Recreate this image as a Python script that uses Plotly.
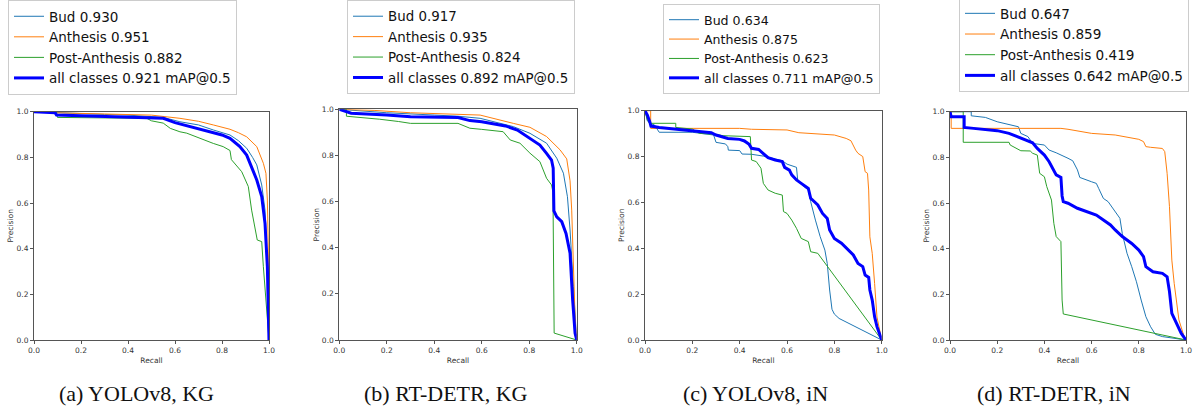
import plotly.graph_objects as go

# ---------------- data (recall / precision pairs) ----------------
# (a) YOLOv8, KG
a_bud_r = [0, 0.1, 0.2, 0.3, 0.4, 0.5, 0.55, 0.621, 0.7, 0.763, 0.8, 0.834, 0.87, 0.905, 0.93, 0.948, 0.969, 0.983, 0.993, 1.0]
a_bud_p = [1.0, 0.995, 0.99, 0.988, 0.985, 0.98, 0.975, 0.956, 0.942, 0.92, 0.908, 0.898, 0.873, 0.84, 0.80, 0.767, 0.679, 0.569, 0.321, 0.0]
a_anth_r = [0, 0.1, 0.3, 0.5, 0.621, 0.7, 0.763, 0.834, 0.87, 0.905, 0.948, 0.976, 0.987, 0.993, 0.997, 1.0]
a_anth_p = [1.0, 0.995, 0.99, 0.985, 0.971, 0.958, 0.942, 0.923, 0.908, 0.89, 0.847, 0.774, 0.73, 0.613, 0.394, 0.0]
a_post_r = [0, 0.095, 0.1, 0.3, 0.48, 0.5, 0.55, 0.58, 0.621, 0.65, 0.7, 0.763, 0.805, 0.834, 0.84, 0.884, 0.912, 0.926, 0.95, 0.969, 0.976, 0.99, 1.0]
a_post_p = [1.0, 1.0, 0.975, 0.972, 0.971, 0.96, 0.95, 0.927, 0.912, 0.906, 0.885, 0.861, 0.847, 0.83, 0.79, 0.737, 0.672, 0.569, 0.438, 0.431, 0.321, 0.146, 0.0]
a_all_r = [0, 0.09, 0.096, 0.21, 0.4, 0.5, 0.55, 0.6, 0.65, 0.7, 0.763, 0.8, 0.834, 0.876, 0.905, 0.926, 0.948, 0.969, 0.983, 0.993, 1.0]
a_all_p = [1.0, 0.995, 0.985, 0.982, 0.978, 0.975, 0.971, 0.952, 0.939, 0.927, 0.908, 0.898, 0.883, 0.847, 0.81, 0.759, 0.701, 0.628, 0.511, 0.321, 0.0]

# (b) RT-DETR, KG
b_bud_r = [0, 0.2, 0.4, 0.5, 0.593, 0.733, 0.803, 0.873, 0.916, 0.944, 0.961, 0.972, 0.986, 1.0]
b_bud_p = [1.0, 0.985, 0.975, 0.97, 0.961, 0.925, 0.896, 0.853, 0.788, 0.723, 0.621, 0.477, 0.231, 0.0]
b_anth_r = [0, 0.15, 0.3, 0.5, 0.593, 0.733, 0.803, 0.873, 0.93, 0.958, 0.972, 0.979, 0.986, 0.993, 1.0]
b_anth_p = [1.0, 0.995, 0.985, 0.978, 0.975, 0.939, 0.922, 0.882, 0.824, 0.785, 0.69, 0.563, 0.34, 0.1, 0.0]
b_post_r = [0, 0.03, 0.03, 0.1, 0.17, 0.25, 0.3, 0.5, 0.55, 0.6, 0.65, 0.69, 0.72, 0.761, 0.803, 0.845, 0.873, 0.894, 0.9, 0.905, 1.0]
b_post_p = [1.0, 1.0, 0.97, 0.965, 0.957, 0.947, 0.939, 0.939, 0.918, 0.913, 0.908, 0.903, 0.867, 0.853, 0.81, 0.773, 0.701, 0.672, 0.64, 0.03, 0.0]
b_all_r = [0, 0.03, 0.05, 0.2, 0.3, 0.5, 0.55, 0.6, 0.7, 0.75, 0.803, 0.845, 0.873, 0.894, 0.901, 0.904, 0.916, 0.937, 0.955, 0.972, 0.983, 0.993, 1.0]
b_all_p = [1.0, 0.99, 0.983, 0.975, 0.968, 0.964, 0.951, 0.946, 0.928, 0.91, 0.874, 0.845, 0.809, 0.78, 0.745, 0.56, 0.534, 0.513, 0.462, 0.376, 0.173, 0.03, 0.0]

# (c) YOLOv8, iN
c_bud_r = [0, 0.01, 0.02, 0.04, 0.06, 0.2, 0.29, 0.3, 0.34, 0.35, 0.352, 0.4, 0.41, 0.45, 0.5, 0.58, 0.6, 0.64, 0.645, 0.66, 0.69, 0.7, 0.72, 0.74, 0.76, 0.77, 0.78, 0.79, 0.8, 0.82, 1.0]
c_bud_p = [1.0, 0.956, 0.945, 0.938, 0.906, 0.906, 0.894, 0.862, 0.855, 0.843, 0.828, 0.826, 0.811, 0.81, 0.802, 0.782, 0.767, 0.753, 0.698, 0.679, 0.654, 0.603, 0.523, 0.451, 0.392, 0.334, 0.218, 0.134, 0.113, 0.094, 0.0]
c_anth_r = [0, 0.024, 0.024, 0.4, 0.45, 0.6, 0.65, 0.7, 0.8, 0.85, 0.87, 0.89, 0.9, 0.92, 0.93, 0.94, 0.945, 0.95, 0.96, 0.97, 0.98, 1.0]
c_anth_p = [1.0, 1.0, 0.923, 0.923, 0.919, 0.916, 0.904, 0.901, 0.894, 0.879, 0.869, 0.828, 0.814, 0.8, 0.734, 0.727, 0.654, 0.45, 0.378, 0.247, 0.1, 0.0]
c_post_r = [0, 0.01, 0.02, 0.13, 0.13, 0.2, 0.23, 0.3, 0.33, 0.42, 0.445, 0.45, 0.47, 0.49, 0.5, 0.52, 0.55, 0.58, 0.585, 0.6, 0.62, 0.64, 0.66, 0.69, 0.7, 0.73, 1.0]
c_post_p = [1.0, 0.96, 0.945, 0.945, 0.927, 0.92, 0.901, 0.897, 0.891, 0.89, 0.887, 0.785, 0.778, 0.749, 0.683, 0.654, 0.64, 0.632, 0.56, 0.552, 0.523, 0.487, 0.443, 0.429, 0.385, 0.378, 0.0]
c_all_r = [0, 0.01, 0.02, 0.025, 0.06, 0.1, 0.15, 0.2, 0.25, 0.28, 0.3, 0.35, 0.4, 0.42, 0.44, 0.45, 0.48, 0.5, 0.52, 0.55, 0.58, 0.59, 0.61, 0.62, 0.64, 0.66, 0.69, 0.7, 0.73, 0.75, 0.77, 0.78, 0.8, 0.83, 0.86, 0.88, 0.9, 0.92, 0.93, 0.945, 0.95, 0.96, 0.97, 0.98, 1.0]
c_all_p = [1.0, 0.981, 0.952, 0.933, 0.927, 0.923, 0.919, 0.913, 0.908, 0.904, 0.894, 0.879, 0.875, 0.868, 0.853, 0.836, 0.831, 0.811, 0.795, 0.785, 0.778, 0.753, 0.741, 0.72, 0.698, 0.683, 0.661, 0.618, 0.589, 0.552, 0.53, 0.48, 0.443, 0.422, 0.392, 0.371, 0.334, 0.32, 0.283, 0.273, 0.218, 0.174, 0.102, 0.058, 0.0]

# (d) RT-DETR, iN
d_bud_r = [0, 0.09, 0.09, 0.15, 0.2, 0.25, 0.29, 0.3, 0.33, 0.35, 0.4, 0.42, 0.45, 0.5, 0.52, 0.54, 0.55, 0.6, 0.62, 0.63, 0.65, 0.67, 0.7, 0.72, 0.73, 0.75, 0.77, 0.79, 0.81, 0.83, 0.85, 0.87, 0.9, 1.0]
d_bud_p = [1.0, 1.0, 0.982, 0.975, 0.956, 0.945, 0.934, 0.905, 0.891, 0.861, 0.854, 0.832, 0.82, 0.796, 0.785, 0.745, 0.712, 0.693, 0.686, 0.664, 0.62, 0.606, 0.562, 0.533, 0.467, 0.38, 0.321, 0.255, 0.175, 0.102, 0.058, 0.025, 0.015, 0.0]
d_anth_r = [0, 0.005, 0.005, 0.47, 0.5, 0.57, 0.6, 0.7, 0.78, 0.8, 0.82, 0.83, 0.85, 0.9, 0.91, 0.92, 0.93, 0.94, 0.95, 0.96, 0.97, 0.99, 1.0]
d_anth_p = [1.0, 1.0, 0.927, 0.927, 0.923, 0.912, 0.905, 0.898, 0.883, 0.879, 0.869, 0.847, 0.844, 0.839, 0.825, 0.73, 0.584, 0.35, 0.248, 0.161, 0.088, 0.022, 0.0]
d_post_r = [0, 0.056, 0.056, 0.25, 0.255, 0.3, 0.34, 0.35, 0.37, 0.38, 0.4, 0.41, 0.43, 0.44, 0.45, 0.47, 0.475, 0.48, 1.0]
d_post_p = [1.0, 1.0, 0.866, 0.866, 0.854, 0.829, 0.828, 0.818, 0.81, 0.73, 0.715, 0.672, 0.613, 0.511, 0.453, 0.431, 0.175, 0.114, 0.0]
d_all_r = [0, 0.005, 0.06, 0.06, 0.1, 0.15, 0.2, 0.25, 0.28, 0.31, 0.35, 0.37, 0.4, 0.42, 0.44, 0.45, 0.47, 0.475, 0.48, 0.5, 0.54, 0.58, 0.62, 0.65, 0.68, 0.7, 0.73, 0.77, 0.8, 0.82, 0.83, 0.86, 0.9, 0.92, 0.93, 0.94, 0.96, 0.98, 1.0]
d_all_p = [1.0, 0.978, 0.978, 0.931, 0.927, 0.923, 0.917, 0.905, 0.893, 0.883, 0.864, 0.839, 0.81, 0.781, 0.745, 0.723, 0.712, 0.631, 0.606, 0.599, 0.577, 0.562, 0.547, 0.526, 0.504, 0.482, 0.453, 0.423, 0.394, 0.365, 0.321, 0.299, 0.292, 0.277, 0.212, 0.117, 0.073, 0.029, 0.0]

class_names = ["Bud", "Anthesis", "Post-Anthesis"]
ap_a = [0.930, 0.951, 0.882, 0.921]
ap_b = [0.917, 0.935, 0.824, 0.892]
ap_c = [0.634, 0.875, 0.623, 0.711]
ap_d = [0.647, 0.859, 0.419, 0.642]
captions = ["(a) YOLOv8, KG", "(b) RT-DETR, KG", "(c) YOLOv8, iN", "(d) RT-DETR, iN"]
tick_vals = [0.0, 0.2, 0.4, 0.6, 0.8, 1.0]

# ---------------- layout geometry (pixels) ----------------
W, H = 1200, 408
plot_boxes = [(34, 269, 111.7, 340), (339.3, 576.7, 109.3, 340), (645, 881.7, 110.7, 340), (950, 1186, 111.7, 340)]
legend_pos = [(8, 0.0, 13.5), (347, 0.0, 13.4), (663, 4.0, 12.6), (959, -3.0, 13.6)]
caption_x = [136, 446, 755, 1054]
caption_y = 393

colors = ["#1f77b4", "#ff7f0e", "#2ca02c"]

curves = [
    [(a_bud_r, a_bud_p), (a_anth_r, a_anth_p), (a_post_r, a_post_p), (a_all_r, a_all_p)],
    [(b_bud_r, b_bud_p), (b_anth_r, b_anth_p), (b_post_r, b_post_p), (b_all_r, b_all_p)],
    [(c_bud_r, c_bud_p), (c_anth_r, c_anth_p), (c_post_r, c_post_p), (c_all_r, c_all_p)],
    [(d_bud_r, d_bud_p), (d_anth_r, d_anth_p), (d_post_r, d_post_p), (d_all_r, d_all_p)],
]
aps = [ap_a, ap_b, ap_c, ap_d]

fig = go.Figure()
layout = dict(
    width=W, height=H, margin=dict(l=0, r=0, t=0, b=0, autoexpand=False),
    paper_bgcolor="white", plot_bgcolor="white",
    font=dict(family="DejaVu Sans", color="#333333"),
    showlegend=True,
)

for i in range(4):
    n = "" if i == 0 else str(i + 1)
    xa, ya = "x" + n, "y" + n
    leg = "legend" + n
    for k in range(4):
        r, p = curves[i][k]
        if k < 3:
            name = f"{class_names[k]} {aps[i][k]:.3f}"
            line = dict(color=colors[k], width=1)
        else:
            name = f"all classes {aps[i][k]:.3f} mAP@0.5"
            line = dict(color="blue", width=3)
        fig.add_trace(go.Scatter(x=r, y=p, mode="lines", name=name, line=line,
                                 xaxis=xa, yaxis=ya, legend=leg, hoverinfo="skip"))
    x0, x1, yt, yb = plot_boxes[i]
    axcommon = dict(range=[0, 1], tickvals=tick_vals, ticktext=[f"{v:.1f}" for v in tick_vals],
                    showgrid=False, zeroline=False, showline=True, mirror=True,
                    linecolor="#555555", linewidth=1, ticks="outside", ticklen=3,
                    tickcolor="#555555", tickwidth=1, automargin=False,
                    tickfont=dict(size=7.5, color="#333333"))
    layout["xaxis" + n] = dict(axcommon, domain=[x0 / W, x1 / W], anchor=ya,
                                title=dict(text="Recall", font=dict(size=7.5), standoff=3))
    layout["yaxis" + n] = dict(axcommon, domain=[(H - yb) / H, (H - yt) / H], anchor=xa,
                                title=dict(text="Precision", font=dict(size=7.5), standoff=1))
    lx, ly, fs = legend_pos[i]
    layout[leg] = dict(x=lx / W, y=1 - ly / H, xanchor="left", yanchor="top",
                       xref="paper", yref="paper",
                       bgcolor="white", bordercolor="#cccccc", borderwidth=1,
                       font=dict(size=fs, color="#111111", family="DejaVu Sans"),
                       itemwidth=30, tracegroupgap=0)

annotations = []
for i in range(4):
    annotations.append(dict(text=captions[i], x=caption_x[i] / W, y=(H - caption_y) / H,
                            xref="paper", yref="paper", xanchor="center", yanchor="middle",
                            showarrow=False,
                            font=dict(family="Liberation Serif", size=22, color="#111111")))
layout["annotations"] = annotations
fig.update_layout(**layout)
fig.write_html("out.html", config={"displayModeBar": False},
               post_script="document.body.style.margin='0';document.body.style.padding='0';")
